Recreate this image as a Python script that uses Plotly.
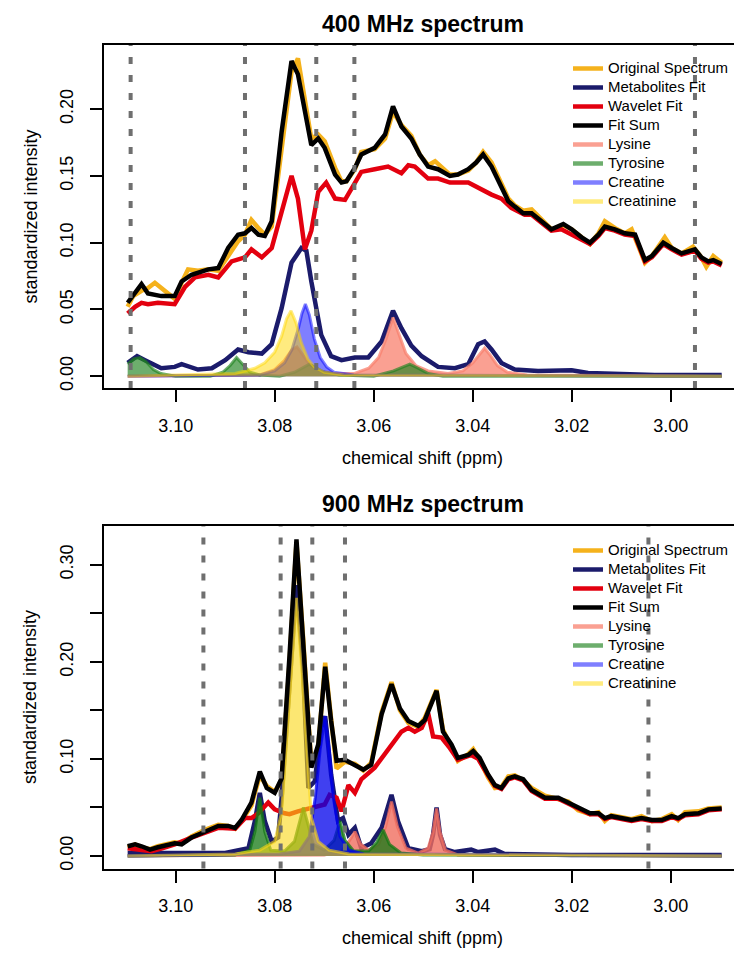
import plotly.graph_objects as go

# ---------------- 400 MHz panel ----------------
top_orig_ppm = [3.1097, 3.1086, 3.1069, 3.1056, 3.1042, 3.1029, 3.1002, 3.0988, 3.0975, 3.0955,
                3.0934, 3.0914, 3.0894, 3.0874, 3.0860, 3.0847, 3.0833, 3.0820, 3.0806, 3.0786,
                3.0766, 3.0753, 3.0739, 3.0726, 3.0712, 3.0699, 3.0678, 3.0665, 3.0655, 3.0638,
                3.0625, 3.0598, 3.0577, 3.0561, 3.0544, 3.0524, 3.0507, 3.0490, 3.0476, 3.0446,
                3.0430, 3.0409, 3.0393, 3.0379, 3.0362, 3.0345, 3.0328, 3.0315, 3.0298, 3.0281,
                3.0261, 3.0241, 3.0217, 3.0200, 3.0180, 3.0163, 3.0146, 3.0133, 3.0113, 3.0093,
                3.0079, 3.0052, 3.0038, 3.0012, 2.9998, 2.9978, 2.9955, 2.9938, 2.9928, 2.9914,
                2.9897]
top_orig = [0.052, 0.060, 0.064, 0.066, 0.070, 0.066, 0.058, 0.070, 0.080, 0.079,
            0.080, 0.079, 0.090, 0.101, 0.106, 0.117, 0.111, 0.106, 0.112, 0.170,
            0.228, 0.238, 0.205, 0.178, 0.181, 0.176, 0.156, 0.146, 0.146, 0.155,
            0.168, 0.170, 0.178, 0.198, 0.188, 0.180, 0.166, 0.158, 0.161, 0.151,
            0.151, 0.154, 0.160, 0.168, 0.160, 0.147, 0.133, 0.128, 0.124, 0.125,
            0.117, 0.110, 0.113, 0.110, 0.104, 0.099, 0.107, 0.116, 0.111, 0.107,
            0.110, 0.085, 0.090, 0.104, 0.096, 0.092, 0.097, 0.089, 0.082, 0.090,
            0.085]

top_fit_ppm = [3.1097, 3.1086, 3.1069, 3.1056, 3.1029, 3.1002, 3.0988, 3.0968, 3.0934, 3.0914,
               3.0894, 3.0874, 3.0860, 3.0847, 3.0833, 3.0820, 3.0806, 3.0786, 3.0766, 3.0753,
               3.0739, 3.0726, 3.0712, 3.0699, 3.0678, 3.0665, 3.0655, 3.0638, 3.0625, 3.0598,
               3.0577, 3.0561, 3.0544, 3.0524, 3.0507, 3.0490, 3.0470, 3.0446, 3.0430, 3.0409,
               3.0393, 3.0379, 3.0362, 3.0345, 3.0328, 3.0315, 3.0298, 3.0281, 3.0261, 3.0241,
               3.0217, 3.0200, 3.0180, 3.0163, 3.0146, 3.0133, 3.0113, 3.0093, 3.0072, 3.0052,
               3.0038, 3.0015, 2.9998, 2.9978, 2.9951, 2.9938, 2.9924, 2.9914, 2.9897]
top_fit = [0.055, 0.061, 0.069, 0.062, 0.060, 0.060, 0.071, 0.076, 0.080, 0.081,
           0.096, 0.106, 0.107, 0.111, 0.106, 0.105, 0.116, 0.183, 0.236, 0.226,
           0.196, 0.173, 0.178, 0.171, 0.151, 0.145, 0.146, 0.156, 0.166, 0.171,
           0.181, 0.202, 0.187, 0.178, 0.166, 0.157, 0.155, 0.150, 0.151, 0.155,
           0.160, 0.166, 0.157, 0.143, 0.131, 0.127, 0.122, 0.122, 0.116, 0.110,
           0.114, 0.110, 0.104, 0.100, 0.106, 0.112, 0.110, 0.107, 0.106, 0.087,
           0.090, 0.100, 0.096, 0.092, 0.095, 0.089, 0.086, 0.087, 0.084]

top_wav_ppm = [3.1097, 3.1082, 3.1069, 3.1056, 3.1036, 3.1002, 3.0981, 3.0961, 3.0934, 3.0914,
               3.0887, 3.0860, 3.0847, 3.0826, 3.0806, 3.0786, 3.0766, 3.0753, 3.0739, 3.0726,
               3.0712, 3.0696, 3.0678, 3.0658, 3.0638, 3.0625, 3.0598, 3.0571, 3.0544, 3.0530,
               3.0517, 3.0490, 3.0470, 3.0446, 3.0409, 3.0389, 3.0362, 3.0342, 3.0322, 3.0295,
               3.0281, 3.0261, 3.0241, 3.0221, 3.0200, 3.0163, 3.0146, 3.0133, 3.0113, 3.0093,
               3.0072, 3.0052, 3.0038, 3.0015, 2.9998, 2.9978, 2.9951, 2.9938, 2.9924, 2.9914,
               2.9897]
top_wav = [0.047, 0.052, 0.055, 0.054, 0.055, 0.054, 0.067, 0.074, 0.076, 0.074,
           0.086, 0.089, 0.095, 0.089, 0.096, 0.124, 0.150, 0.133, 0.095, 0.109,
           0.138, 0.145, 0.133, 0.132, 0.145, 0.153, 0.155, 0.157, 0.152, 0.158,
           0.157, 0.148, 0.148, 0.145, 0.145, 0.141, 0.136, 0.133, 0.126, 0.121,
           0.121, 0.115, 0.109, 0.110, 0.106, 0.099, 0.105, 0.111, 0.109, 0.106,
           0.105, 0.086, 0.089, 0.099, 0.095, 0.091, 0.094, 0.088, 0.085, 0.086,
           0.083]

top_met_ppm = [3.1097, 3.1078, 3.1062, 3.1029, 3.1002, 3.0988, 3.0955, 3.0927, 3.0900, 3.0874,
               3.0853, 3.0826, 3.0806, 3.0786, 3.0766, 3.0746, 3.0736, 3.0726, 3.0706, 3.0686,
               3.0665, 3.0638, 3.0611, 3.0584, 3.0561, 3.0544, 3.0524, 3.0503, 3.0470, 3.0436,
               3.0409, 3.0389, 3.0376, 3.0362, 3.0342, 3.0315, 3.0268, 3.0221, 3.0200, 3.0167,
               3.0099, 3.0032, 2.9897]
top_met = [0.010, 0.015, 0.012, 0.006, 0.007, 0.009, 0.005, 0.006, 0.012, 0.020,
           0.018, 0.017, 0.024, 0.051, 0.085, 0.096, 0.094, 0.071, 0.031, 0.015,
           0.012, 0.014, 0.014, 0.026, 0.049, 0.036, 0.023, 0.015, 0.007, 0.006,
           0.009, 0.024, 0.026, 0.020, 0.010, 0.005, 0.004, 0.004, 0.0045, 0.0025,
           0.002, 0.001, 0.001]

top_lys_ppm = [3.1097, 3.0830, 3.0800, 3.0780, 3.0765, 3.0755, 3.0745, 3.0730, 3.0710, 3.0680,
               3.0640, 3.0610, 3.0590, 3.0575, 3.0561, 3.0550, 3.0535, 3.0515, 3.0490, 3.0450,
               3.0420, 3.0400, 3.0385, 3.0376, 3.0365, 3.0350, 3.0330, 3.0290, 2.9897]
top_lys = [0.0, 0.001, 0.005, 0.012, 0.020, 0.022, 0.017, 0.009, 0.004, 0.002,
           0.002, 0.006, 0.014, 0.028, 0.044, 0.032, 0.017, 0.008, 0.004, 0.002,
           0.004, 0.010, 0.017, 0.021, 0.016, 0.008, 0.003, 0.001, 0.0]

top_tyr_ppm = [3.1097, 3.1085, 3.1072, 3.1060, 3.1045, 3.1030, 3.1000, 3.0930, 3.0905, 3.0890,
               3.0877, 3.0865, 3.0850, 3.0830, 3.0790, 3.0760, 3.0740, 3.0730, 3.0720, 3.0700,
               3.0670, 3.0600, 3.0560, 3.0540, 3.0527, 3.0510, 3.0490, 3.0460, 2.9897]
top_tyr = [0.009, 0.013, 0.014, 0.011, 0.005, 0.002, 0.0, 0.0, 0.003, 0.008,
           0.014, 0.009, 0.003, 0.001, 0.0, 0.003, 0.007, 0.009, 0.007, 0.003,
           0.001, 0.0, 0.004, 0.007, 0.009, 0.006, 0.002, 0.0, 0.0]

top_cr_ppm = [3.1097, 3.0830, 3.0800, 3.0780, 3.0765, 3.0752, 3.0745, 3.0738, 3.0730, 3.0720,
              3.0708, 3.0695, 3.0680, 3.0640, 2.9897]
top_cr = [0.0, 0.001, 0.004, 0.010, 0.020, 0.036, 0.047, 0.054, 0.046, 0.028,
          0.014, 0.007, 0.003, 0.001, 0.0]

top_crn_ppm = [3.1097, 3.0880, 3.0840, 3.0820, 3.0800, 3.0786, 3.0776, 3.0767, 3.0757, 3.0746,
               3.0733, 3.0720, 3.0700, 3.0660, 2.9897]
top_crn = [0.0, 0.002, 0.006, 0.010, 0.018, 0.030, 0.043, 0.049, 0.040, 0.025,
           0.013, 0.007, 0.003, 0.001, 0.0]

top_vlines = [3.1091, 3.0860, 3.0716, 3.0639, 2.9951]

# ---------------- 900 MHz panel ----------------
bot_fit_ppm = [3.1097, 3.1082, 3.1069, 3.1052, 3.1036, 3.1015, 3.1002, 3.0988, 3.0968, 3.0941,
               3.0914, 3.0894, 3.0880, 3.0867, 3.0847, 3.0830, 3.0816, 3.0800, 3.0786, 3.0770,
               3.0756, 3.0743, 3.0726, 3.0712, 3.0698, 3.0686, 3.0675, 3.0658, 3.0638, 3.0621,
               3.0605, 3.0584, 3.0564, 3.0547, 3.0530, 3.0510, 3.0497, 3.0473, 3.0460, 3.0443,
               3.0430, 3.0409, 3.0399, 3.0386, 3.0369, 3.0355, 3.0342, 3.0328, 3.0315, 3.0298,
               3.0281, 3.0254, 3.0227, 3.0207, 3.0187, 3.0163, 3.0146, 3.0133, 3.0120, 3.0099,
               3.0079, 3.0059, 3.0038, 3.0018, 2.9998, 2.9985, 2.9971, 2.9944, 2.9924, 2.9897]
bot_fit = [0.010, 0.012, 0.010, 0.0065, 0.009, 0.012, 0.013, 0.012, 0.019, 0.025,
           0.031, 0.031, 0.029, 0.037, 0.055, 0.087, 0.070, 0.065, 0.080, 0.207,
           0.326, 0.225, 0.091, 0.115, 0.195, 0.139, 0.098, 0.099, 0.094, 0.089,
           0.094, 0.146, 0.177, 0.152, 0.139, 0.134, 0.140, 0.170, 0.128, 0.115,
           0.101, 0.104, 0.108, 0.101, 0.084, 0.073, 0.070, 0.080, 0.082, 0.079,
           0.068, 0.060, 0.060, 0.055, 0.049, 0.044, 0.044, 0.039, 0.041, 0.039,
           0.037, 0.039, 0.037, 0.037, 0.041, 0.039, 0.043, 0.044, 0.048, 0.049]

bot_orig_ppm = bot_fit_ppm
bot_orig = [0.009, 0.012, 0.009, 0.007, 0.010, 0.012, 0.014, 0.013, 0.020, 0.027,
            0.032, 0.031, 0.028, 0.036, 0.052, 0.083, 0.072, 0.066, 0.078, 0.200,
            0.323, 0.228, 0.094, 0.112, 0.199, 0.141, 0.090, 0.097, 0.095, 0.088,
            0.096, 0.148, 0.179, 0.150, 0.137, 0.133, 0.142, 0.171, 0.130, 0.112,
            0.098, 0.105, 0.110, 0.099, 0.081, 0.070, 0.071, 0.082, 0.083, 0.078,
            0.070, 0.062, 0.059, 0.056, 0.047, 0.043, 0.045, 0.036, 0.042, 0.040,
            0.038, 0.041, 0.036, 0.038, 0.043, 0.037, 0.045, 0.046, 0.049, 0.050]

bot_wav_ppm = [3.1097, 3.1069, 3.1049, 3.1029, 3.1002, 3.0968, 3.0941, 3.0914, 3.0880, 3.0860,
               3.0847, 3.0833, 3.0813, 3.0800, 3.0780, 3.0770, 3.0753, 3.0732, 3.0712, 3.0699,
               3.0689, 3.0675, 3.0665, 3.0651, 3.0638, 3.0625, 3.0598, 3.0571, 3.0544, 3.0530,
               3.0517, 3.0503, 3.0490, 3.0480, 3.0463, 3.0446, 3.0430, 3.0403, 3.0389, 3.0369,
               3.0355, 3.0342, 3.0328, 3.0315, 3.0298, 3.0281, 3.0254, 3.0227, 3.0207, 3.0187,
               3.0163, 3.0146, 3.0133, 3.0120, 3.0099, 3.0079, 3.0059, 3.0038, 3.0018, 2.9998,
               2.9985, 2.9971, 2.9944, 2.9924, 2.9897]
bot_wav = [0.008, 0.0065, 0.005, 0.0075, 0.012, 0.019, 0.024, 0.029, 0.028, 0.039,
           0.039, 0.044, 0.055, 0.048, 0.044, 0.043, 0.046, 0.049, 0.051, 0.053,
           0.063, 0.060, 0.046, 0.073, 0.065, 0.079, 0.091, 0.110, 0.128, 0.132,
           0.128, 0.132, 0.147, 0.123, 0.122, 0.111, 0.099, 0.104, 0.100, 0.083,
           0.072, 0.069, 0.079, 0.081, 0.078, 0.067, 0.059, 0.059, 0.054, 0.048,
           0.043, 0.043, 0.038, 0.040, 0.038, 0.036, 0.038, 0.036, 0.036, 0.040,
           0.038, 0.042, 0.043, 0.047, 0.048]

bot_met_ppm = [3.1097, 3.1000, 3.0955, 3.0900, 3.0853, 3.0840, 3.0830, 3.0820, 3.0806, 3.0793,
               3.0786, 3.0770, 3.0756, 3.0743, 3.0732, 3.0719, 3.0706, 3.0698, 3.0686, 3.0672,
               3.0662, 3.0651, 3.0638, 3.0625, 3.0605, 3.0584, 3.0564, 3.0551, 3.0530, 3.0503,
               3.0487, 3.0480, 3.0473, 3.0466, 3.0456, 3.0436, 3.0403, 3.0389, 3.0355, 3.0335,
               3.0200, 2.9897]
bot_met = [0.003, 0.003, 0.002, 0.003, 0.008, 0.036, 0.065, 0.036, 0.015, 0.019,
           0.060, 0.185, 0.279, 0.195, 0.070, 0.077, 0.132, 0.144, 0.084, 0.036,
           0.039, 0.022, 0.029, 0.008, 0.013, 0.029, 0.063, 0.036, 0.008, 0.005,
           0.007, 0.022, 0.050, 0.022, 0.007, 0.004, 0.0065, 0.004, 0.0065, 0.002,
           0.001, 0.001]

bot_lys_ppm = [3.1097, 3.0700, 3.0665, 3.0650, 3.0638, 3.0626, 3.0610, 3.0590, 3.0576, 3.0564,
               3.0552, 3.0535, 3.0510, 3.0490, 3.0480, 3.0473, 3.0466, 3.0455, 3.0430, 2.9897]
bot_lys = [0.0, 0.001, 0.005, 0.015, 0.025, 0.012, 0.006, 0.012, 0.030, 0.056,
           0.030, 0.008, 0.003, 0.008, 0.025, 0.049, 0.025, 0.006, 0.001, 0.0]

bot_tyr_ppm = [3.1097, 3.0880, 3.0850, 3.0840, 3.0830, 3.0820, 3.0808, 3.0780, 3.0760, 3.0750,
               3.0742, 3.0734, 3.0722, 3.0700, 3.0680, 3.0668, 3.0658, 3.0640, 3.0610, 3.0594,
               3.0581, 3.0568, 3.0545, 3.0500, 2.9897]
bot_tyr = [0.0, 0.001, 0.006, 0.025, 0.060, 0.025, 0.006, 0.005, 0.015, 0.035,
           0.050, 0.035, 0.012, 0.006, 0.016, 0.036, 0.016, 0.005, 0.005, 0.014,
           0.027, 0.012, 0.003, 0.001, 0.0]

bot_cr_ppm = [3.1097, 3.0790, 3.0750, 3.0730, 3.0718, 3.0708, 3.0698, 3.0690, 3.0680, 3.0668,
              3.0650, 3.0620, 2.9897]
bot_cr = [0.0, 0.002, 0.005, 0.020, 0.060, 0.110, 0.144, 0.110, 0.055, 0.020,
          0.006, 0.002, 0.0]

bot_crn_ppm = [3.1097, 3.0880, 3.0830, 3.0800, 3.0786, 3.0770, 3.0756, 3.0743, 3.0726, 3.0712,
               3.0690, 3.0650, 2.9897]
bot_crn = [0.0, 0.002, 0.006, 0.015, 0.045, 0.165, 0.266, 0.175, 0.040, 0.015,
           0.006, 0.002, 0.0]

bot_vlines = [3.0944, 3.0788, 3.0724, 3.0658, 3.0045]

tick_ppm = [3.10, 3.08, 3.06, 3.04, 3.02, 3.00]
tick_ppm_text = ["3.10", "3.08", "3.06", "3.04", "3.02", "3.00"]
top_yticks = [0.00, 0.05, 0.10, 0.15, 0.20]
top_yticktext = ["0.00", "0.05", "0.10", "0.15", "0.20"]
bot_yticks = [0.00, 0.05, 0.10, 0.15, 0.20, 0.25, 0.30]
bot_yticktext = ["0.00", "", "0.10", "", "0.20", "", "0.30"]

FONT = "Liberation Sans, Arial, sans-serif"
W, H = 742, 958

line_cols = {"Original Spectrum": "#F5B21C", "Metabolites Fit": "#1B1B6B",
             "Wavelet Fit": "#E3000F", "Fit Sum": "#000000"}
legend_cols = {"Lysine": "rgba(248,128,110,0.75)", "Tyrosine": "rgba(30,130,30,0.65)",
               "Creatine": "rgba(0,0,255,0.5)", "Creatinine": "rgba(255,215,0,0.5)"}
top_fill = legend_cols
bot_fill = {"Lysine": "rgba(240,110,95,0.8)", "Tyrosine": "rgba(20,120,20,0.75)",
            "Creatine": "rgba(0,0,235,0.75)", "Creatinine": "rgba(250,215,20,0.6)"}


def leg_label(name):
    # legend rows are spaced by the (smaller) legend font, text shown at 15px
    return '<span style="font-size:15px">' + name + "</span>"


fig = go.Figure()


def add_panel(xa, ya, leg, orig, met, wav, fit, comps, fills):
    for name, (px_, py_) in [("Original Spectrum", orig), ("Metabolites Fit", met),
                             ("Wavelet Fit", wav)]:
        fig.add_trace(go.Scatter(x=px_, y=py_, mode="lines", name=leg_label(name), legend=leg,
                                 xaxis=xa, yaxis=ya,
                                 line=dict(color=line_cols[name], width=4.5)))
    # line swatches for the legend
    for name in ["Fit Sum"] + list(legend_cols):
        col = line_cols.get(name, legend_cols.get(name))
        fig.add_trace(go.Scatter(x=[None], y=[None], mode="lines", name=leg_label(name),
                                 legend=leg, xaxis=xa, yaxis=ya,
                                 line=dict(color=col, width=4.5)))
    for name, (cx, cy) in comps.items():
        fig.add_trace(go.Scatter(x=cx, y=cy, mode="lines", fill="tozeroy", name=name,
                                 xaxis=xa, yaxis=ya, showlegend=False,
                                 fillcolor=fills[name],
                                 line=dict(color=fills[name], width=3)))
    # fit sum drawn on top
    fig.add_trace(go.Scatter(x=fit[0], y=fit[1], mode="lines", name="Fit Sum",
                             xaxis=xa, yaxis=ya, showlegend=False,
                             line=dict(color="#000000", width=4.5)))


add_panel("x", "y", "legend",
          (top_orig_ppm, top_orig), (top_met_ppm, top_met), (top_wav_ppm, top_wav),
          (top_fit_ppm, top_fit),
          {"Lysine": (top_lys_ppm, top_lys), "Tyrosine": (top_tyr_ppm, top_tyr),
           "Creatine": (top_cr_ppm, top_cr), "Creatinine": (top_crn_ppm, top_crn)},
          top_fill)
add_panel("x2", "y2", "legend2",
          (bot_orig_ppm, bot_orig), (bot_met_ppm, bot_met), (bot_wav_ppm, bot_wav),
          (bot_fit_ppm, bot_fit),
          {"Lysine": (bot_lys_ppm, bot_lys), "Tyrosine": (bot_tyr_ppm, bot_tyr),
           "Creatine": (bot_cr_ppm, bot_cr), "Creatinine": (bot_crn_ppm, bot_crn)},
          bot_fill)

vline_style = dict(color="#6F6F6F", width=4, dash="7px,11px")
for v in top_vlines:
    fig.add_shape(type="line", xref="x", yref="y domain", x0=v, x1=v, y0=0, y1=1,
                  line=vline_style)
for v in bot_vlines:
    fig.add_shape(type="line", xref="x2", yref="y2 domain", x0=v, x1=v, y0=0, y1=1,
                  line=vline_style)

xdom = [96 / W, 733 / W]
xrange_ = [3.11448, 2.98580]
ax_common = dict(showline=True, mirror=True, linecolor="black", linewidth=2,
                 ticks="outside", ticklen=12, tickwidth=2, tickcolor="black",
                 showgrid=False, zeroline=False, automargin=False,
                 tickfont=dict(family=FONT, size=18, color="black"))

fig.update_layout(
    width=W, height=H,
    margin=dict(l=0, r=0, t=0, b=0),
    paper_bgcolor="white", plot_bgcolor="white",
    font=dict(family=FONT, color="black"),
    xaxis=dict(domain=xdom, range=xrange_, anchor="y", tickvals=tick_ppm,
               ticktext=tick_ppm_text, ticklabelstandoff=8, **ax_common),
    yaxis=dict(domain=[1 - 380 / H, 1 - 37 / H], range=[-0.0088, 0.248], anchor="x",
               tickvals=top_yticks, ticktext=top_yticktext, tickangle=-90,
               ticklabelstandoff=10, **ax_common),
    xaxis2=dict(domain=xdom, range=xrange_, anchor="y2", tickvals=tick_ppm,
                ticktext=tick_ppm_text, ticklabelstandoff=8, **ax_common),
    yaxis2=dict(domain=[1 - 860.5 / H, 1 - 518 / H], range=[-0.0129, 0.3399], anchor="x2",
                tickvals=bot_yticks, ticktext=bot_yticktext, tickangle=-90,
                ticklabelstandoff=10, **ax_common),
    legend=dict(x=560 / W, y=1 - 46 / H, xanchor="left", yanchor="top",
                bgcolor="rgba(0,0,0,0)", font=dict(family=FONT, size=12, color="black")),
    legend2=dict(x=560 / W, y=1 - 528 / H, xanchor="left", yanchor="top",
                 bgcolor="rgba(0,0,0,0)", font=dict(family=FONT, size=12, color="black")),
    showlegend=True,
)

mid_x = (96 + 733) / 2 / W
annos = [
    ("<b>400 MHz spectrum</b>", mid_x, 16, 0, 23),
    ("<b>900 MHz spectrum</b>", mid_x, 496, 0, 23),
    ("chemical shift (ppm)", mid_x, 450, 0, 18),
    ("chemical shift (ppm)", mid_x, 930, 0, 18),
    ("standardized intensity", 22 / W, 208.5, -90, 18),
    ("standardized intensity", 22 / W, 689, -90, 18),
]
for text, ax_, ay_, ang, sz in annos:
    fig.add_annotation(text=text, x=ax_, y=1 - ay_ / H, xref="paper", yref="paper",
                       showarrow=False, textangle=ang, xanchor="center", yanchor="middle",
                       font=dict(family=FONT, size=sz, color="black"))

fig.write_html("out.html")
